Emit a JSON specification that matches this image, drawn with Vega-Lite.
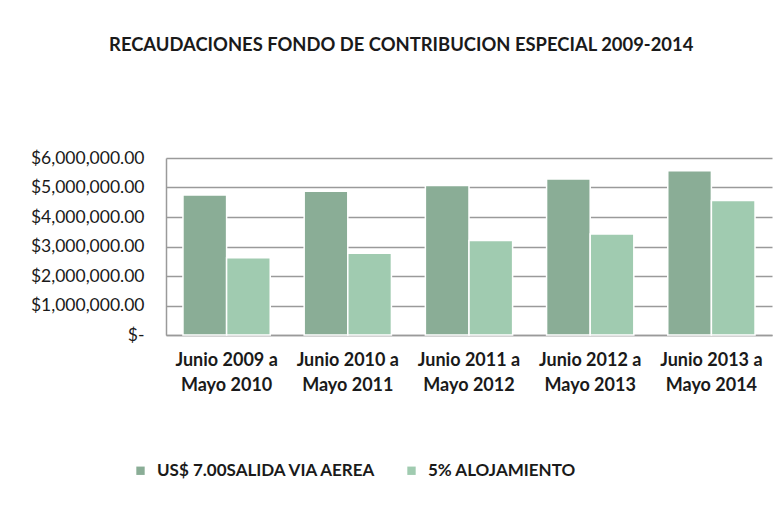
{
  "$schema": "https://vega.github.io/schema/vega-lite/v6.json",
  "width": 606,
  "height": 177,
  "padding": {"left": 30, "top": 35, "right": 7, "bottom": 5},
  "background": "white",
  "title": {
    "text": "RECAUDACIONES FONDO DE CONTRIBUCION ESPECIAL 2009-2014",
    "font": "Lato",
    "fontSize": 18.4,
    "fontWeight": "bold",
    "color": "#1a1a1a",
    "anchor": "middle",
    "frame": "bounds",
    "offset": 95
  },
  "data": {
    "values": [
      {"periodo": "Junio 2009 a Mayo 2010", "serie": "US$ 7.00SALIDA VIA AEREA", "monto": 4750000},
      {"periodo": "Junio 2009 a Mayo 2010", "serie": "5% ALOJAMIENTO", "monto": 2620000},
      {"periodo": "Junio 2010 a Mayo 2011", "serie": "US$ 7.00SALIDA VIA AEREA", "monto": 4870000},
      {"periodo": "Junio 2010 a Mayo 2011", "serie": "5% ALOJAMIENTO", "monto": 2770000},
      {"periodo": "Junio 2011 a Mayo 2012", "serie": "US$ 7.00SALIDA VIA AEREA", "monto": 5070000},
      {"periodo": "Junio 2011 a Mayo 2012", "serie": "5% ALOJAMIENTO", "monto": 3200000},
      {"periodo": "Junio 2012 a Mayo 2013", "serie": "US$ 7.00SALIDA VIA AEREA", "monto": 5290000},
      {"periodo": "Junio 2012 a Mayo 2013", "serie": "5% ALOJAMIENTO", "monto": 3420000},
      {"periodo": "Junio 2013 a Mayo 2014", "serie": "US$ 7.00SALIDA VIA AEREA", "monto": 5570000},
      {"periodo": "Junio 2013 a Mayo 2014", "serie": "5% ALOJAMIENTO", "monto": 4560000}
    ]
  },
  "mark": {"type": "bar", "stroke": "white", "strokeWidth": 1.5},
  "encoding": {
    "x": {
      "field": "periodo",
      "type": "nominal",
      "sort": null,
      "scale": {"paddingInner": 0.28, "paddingOuter": 0.14},
      "axis": {
        "title": null,
        "labelAngle": 0,
        "labelExpr": "[substring(datum.label, 0, 12), substring(datum.label, 13)]",
        "labelFont": "Lato",
        "labelFontSize": 18,
        "labelFontWeight": "bold",
        "labelColor": "#1a1a1a",
        "labelLineHeight": 25,
        "labelPadding": 16,
        "ticks": false,
        "domainColor": "#9a9a9a",
        "domainWidth": 1.5
      }
    },
    "xOffset": {"field": "serie", "type": "nominal", "sort": ["US$ 7.00SALIDA VIA AEREA", "5% ALOJAMIENTO"]},
    "y": {
      "field": "monto",
      "type": "quantitative",
      "scale": {"domain": [0, 6000000]},
      "axis": {
        "title": null,
        "values": [0, 1000000, 2000000, 3000000, 4000000, 5000000, 6000000],
        "labelExpr": "datum.value == 0 ? '$-' : '$' + format(datum.value, ',.2f')",
        "labelFont": "Lato",
        "labelFontSize": 17.5,
        "labelColor": "#1a1a1a",
        "labelPadding": 22,
        "ticks": false,
        "domainColor": "#9a9a9a",
        "domainWidth": 1.5,
        "gridColor": "#9a9a9a",
        "gridWidth": 1.5
      }
    },
    "color": {
      "field": "serie",
      "type": "nominal",
      "sort": ["US$ 7.00SALIDA VIA AEREA", "5% ALOJAMIENTO"],
      "scale": {"range": ["#8aad96", "#a0cbb0"]},
      "legend": {
        "title": null,
        "orient": "none",
        "direction": "horizontal",
        "legendX": -34,
        "legendY": 304,
        "symbolType": "square",
        "symbolSize": 70,
        "symbolStrokeWidth": 0,
        "labelFont": "Lato",
        "labelFontSize": 17,
        "labelFontWeight": "bold",
        "labelColor": "#1a1a1a",
        "labelOffset": 8,
        "labelLimit": 400,
        "columnPadding": 26
      }
    }
  },
  "config": {"view": {"stroke": null}}
}
